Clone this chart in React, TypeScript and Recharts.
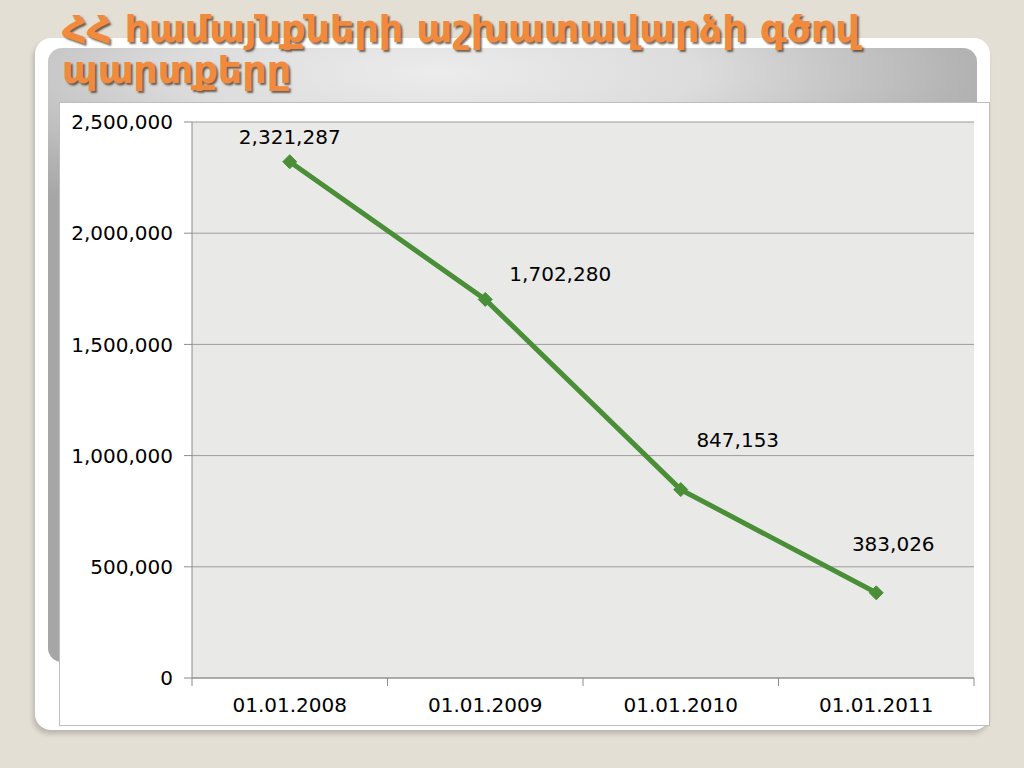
import React from 'react';
import { LineChart, Line, XAxis, YAxis, CartesianGrid, LabelList } from 'recharts';

const TITLE_LINES: string[] = ['ՀՀ համայնքների աշխատավարձի գծով', 'պարտքերը'];

const DATES: string[] = ['01.01.2008', '01.01.2009', '01.01.2010', '01.01.2011'];
const DEBTS: number[] = [2321287, 1702280, 847153, 383026];
const Y_TICKS: number[] = [0, 500000, 1000000, 1500000, 2000000, 2500000];

// label offsets from each point (Excel put them by hand)
const LABEL_DX: number[] = [0, 75, 57, 17];
const LABEL_DY: number[] = [-23, -24, -48, -47];

const GREEN = '#4a8f38';
const FONT = '"DejaVu Sans", Verdana, sans-serif';

const data = DATES.map((d, i) => ({ x: i + 0.5, date: d, value: DEBTS[i] }));

// ticks at category edges (marks) and centres (labels)
const X_TICKS: number[] = [];
for (let i = 0; i <= DATES.length * 2; i++) X_TICKS.push(i / 2);

const fmt = (v: number) => v.toLocaleString('en-US');

const XTick = (props: any) => {
  const { x, y, payload } = props;
  const v = payload.value as number;
  if (Number.isInteger(v)) {
    return <line x1={x} y1={y - 8} x2={x} y2={y} stroke="#8c8c8c" strokeWidth={1} />;
  }
  return (
    <text x={x} y={y + 26} textAnchor="middle" fontSize={20} fontFamily={FONT} fill="#000">
      {DATES[Math.floor(v)]}
    </text>
  );
};

const Diamond = (props: any) => {
  const { cx, cy } = props;
  if (cx == null || cy == null) return null;
  const r = 7;
  return (
    <polygon
      points={`${cx},${cy - r} ${cx + r},${cy} ${cx},${cy + r} ${cx - r},${cy}`}
      fill={GREEN}
      stroke={GREEN}
    />
  );
};

const PointLabel = (props: any) => {
  const { x, y, value, index } = props;
  return (
    <text
      x={x + LABEL_DX[index]}
      y={y + LABEL_DY[index]}
      textAnchor="middle"
      dominantBaseline="middle"
      fontSize={20}
      fontFamily={FONT}
      fill="#000"
    >
      {fmt(value)}
    </text>
  );
};

export default function App() {
  return (
    <div
      style={{
        position: 'fixed',
        left: 0,
        top: 0,
        width: 1024,
        height: 768,
        background: '#e3dfd4',
        overflow: 'hidden',
      }}
    >
      {/* white slide panel */}
      <div
        style={{
          position: 'absolute',
          left: 35,
          top: 38,
          width: 955,
          height: 692,
          background: '#fff',
          borderRadius: 16,
          boxShadow: '-2px 4px 5px rgba(0,0,0,0.18)',
        }}
      />
      {/* grey header box */}
      <div
        style={{
          position: 'absolute',
          left: 48,
          top: 48,
          width: 929,
          height: 614,
          borderRadius: 14,
          background:
            'radial-gradient(ellipse 70% 25% at 42% 4%, #ececec 0%, #dcdcdc 40%, #b4b4b4 80%, #a6a6a6 100%)',
        }}
      />
      {/* title */}
      <div
        style={{
          position: 'absolute',
          left: 62,
          top: 9,
          fontFamily: FONT,
          fontWeight: 'bold',
          fontSize: 38,
          lineHeight: '41px',
          color: '#f28a3e',
          textShadow: '2px 2px 2px rgba(60,40,20,0.7)',
          whiteSpace: 'nowrap',
        }}
      >
        {TITLE_LINES.map((t) => (
          <div key={t}>{t}</div>
        ))}
      </div>
      {/* chart box */}
      <div
        style={{
          position: 'absolute',
          left: 59,
          top: 102,
          width: 929,
          height: 622,
          background: '#fff',
          border: '1px solid #bdbdbd',
        }}
      >
        <LineChart
          width={929}
          height={622}
          data={data}
          margin={{ top: 19, right: 15, left: 0, bottom: 0 }}
        >
          <CartesianGrid vertical={false} stroke="#9c9c9c" fill="#e9eae7" />
          <XAxis
            dataKey="x"
            type="number"
            domain={[0, DATES.length]}
            ticks={X_TICKS}
            interval={0}
            height={47}
            stroke="#8c8c8c"
            tickLine={false}
            tick={<XTick />}
          />
          <YAxis
            domain={[0, 2500000]}
            ticks={Y_TICKS}
            width={132}
            stroke="#8c8c8c"
            tickSize={8}
            tickMargin={11}
            tickFormatter={fmt}
            tick={{ fontSize: 20, fontFamily: FONT, fill: '#000' }}
          />
          <Line
            dataKey="value"
            stroke={GREEN}
            strokeWidth={5}
            dot={<Diamond />}
            activeDot={false}
            isAnimationActive={false}
          >
            <LabelList dataKey="value" content={<PointLabel />} />
          </Line>
        </LineChart>
      </div>
    </div>
  );
}
